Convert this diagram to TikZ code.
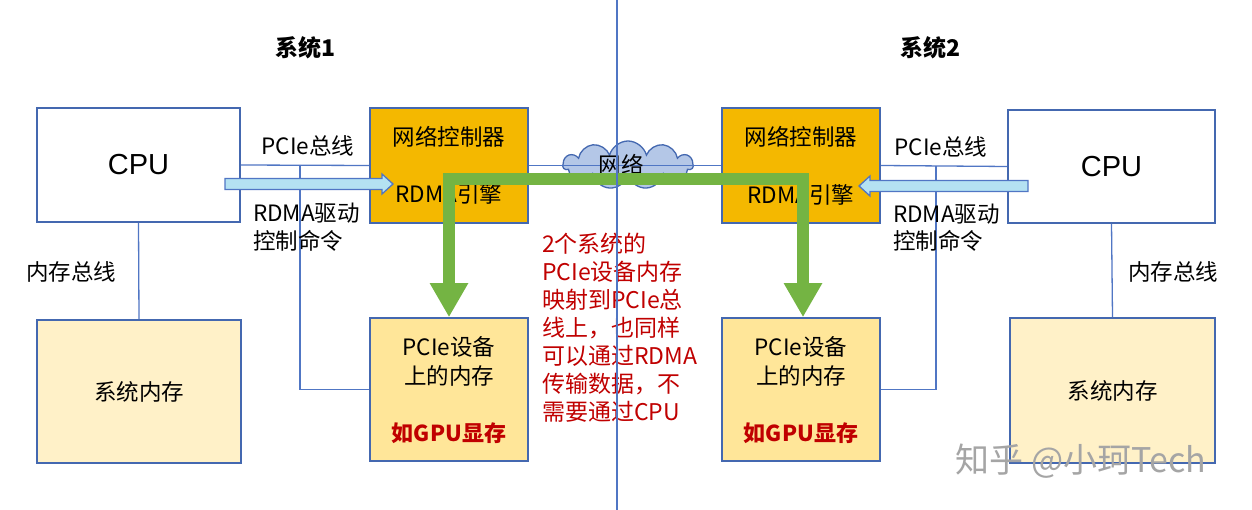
\documentclass[tikz,border=0pt]{standalone}
\usepackage{fontspec}
\setmainfont{Noto Sans CJK SC}
\newfontfamily\cpufont{Liberation Sans}
\usetikzlibrary{shapes.symbols,arrows.meta}
\definecolor{bd}{RGB}{68,104,176}
\definecolor{ln}{RGB}{80,118,196}
\definecolor{ncfill}{RGB}{244,184,0}
\definecolor{devfill}{RGB}{255,230,153}
\definecolor{memfill}{RGB}{255,241,200}
\definecolor{cyanfill}{RGB}{180,226,242}
\definecolor{cloudfill}{RGB}{180,199,231}
\definecolor{grn}{RGB}{116,180,67}
\definecolor{dred}{RGB}{192,0,0}
\definecolor{wm}{RGB}{165,165,165}
\begin{document}
\begin{tikzpicture}[x=1pt,y=-1pt,
  box/.style={draw=bd, line width=1.6pt, inner sep=0pt},
  lbl/.style={font=\fontsize{22.5}{28}\selectfont, text=black, inner sep=0pt},
  ttl/.style={font=\fontsize{23}{27}\selectfont\bfseries, text=black, inner sep=0pt},
  gpu/.style={font=\fontsize{22}{27}\selectfont\bfseries, text=dred, inner sep=0pt},
  cpulbl/.style={font=\cpufont\fontsize{29}{32}\selectfont},
  bus/.style={draw=ln, line width=1.3pt},
  cyanarrow/.style={draw=ln, line width=1.3pt, fill=cyanfill, line join=miter},
  greenarrow/.style={draw=grn, line width=12pt, line join=miter,
     {Triangle[length=34pt,width=36pt]}-{Triangle[length=34pt,width=36pt]}}]
\useasboundingbox (0,0) rectangle (1252,510);
\fill[white] (0,0) rectangle (1252,510);

% titles
\node[ttl] (t1) at (305,48) {系统1};
\node[ttl] (t2) at (930,48) {系统2};

% boxes
\node[box, fill=white, minimum width=203pt, minimum height=114pt, cpulbl] (cpu1) at (138.5,165) {CPU};
\node[box, fill=memfill, minimum width=204pt, minimum height=143pt, lbl] (mem1) at (139,391.5) {系统内存};
\node[box, fill=ncfill, minimum width=158pt, minimum height=115pt] (nc1) at (449,165.5) {};
\node[box, fill=devfill, minimum width=158pt, minimum height=143pt] (pcie1) at (449,389.5) {};

\node[box, fill=ncfill, minimum width=158pt, minimum height=115pt] (nc2) at (801,165.5) {};
\node[box, fill=devfill, minimum width=158pt, minimum height=143pt] (pcie2) at (801,389.5) {};
\node[box, fill=white, minimum width=207pt, minimum height=113pt, cpulbl] (cpu2) at (1111.5,166.5) {CPU};
\node[box, fill=memfill, minimum width=205pt, minimum height=145pt, lbl] (mem2) at (1112.5,390.5) {系统内存};

% cloud
\node[cloud, cloud puffs=11, aspect=2.8, draw=bd, line width=1.3pt, fill=cloudfill,
      minimum width=130pt, minimum height=48pt, inner sep=0pt] (net) at (628,165) {};

% buses
\draw[bus] (cpu1.east) -- (nc1.west);
\draw[bus] (nc1.east) -- (nc2.west);
\draw[bus] (nc2.east) -- (cpu2.west);
\coordinate (b1) at (300,165.5);
\coordinate (b2) at (936,166.5);
\draw[bus] (b1) |- (pcie1.west);
\draw[bus] (b2) |- (pcie2.east);
\draw[bus] (cpu1.south) -- (mem1.north);
\draw[bus] (cpu2.south) -- (mem2.north);

% cyan block arrows
\draw[cyanarrow] (225,178.5) -- (382,178.5) -- (382,174) -- (393,184) -- (382,194) -- (382,189.5) -- (225,189.5) -- cycle;
\draw[cyanarrow] (1028,180.5) -- (870,180.5) -- (870,176) -- (859,186) -- (870,196) -- (870,191.5) -- (1028,191.5) -- cycle;

% labels
\node[lbl] (pb1) at (308,146) {PCIe总线};
\node[lbl, anchor=west] (rd1) at (253,213) {RDMA驱动};
\node[lbl, anchor=west] (cc1) at (253,241) {控制命令};
\node[lbl] (mb1) at (71,272) {内存总线};
\node[lbl] (pb2) at (941,147) {PCIe总线};
\node[lbl, anchor=west] (rd2) at (893,214) {RDMA驱动};
\node[lbl, anchor=west] (cc2) at (893,241) {控制命令};
\node[lbl] (mb2) at (1173,272) {内存总线};

\node[lbl] (nct1) at (449,137) {网络控制器};
\node[lbl] (re1) at (449,194) {RDMA引擎};
\node[lbl] (nct2) at (801,137) {网络控制器};
\node[lbl] (re2) at (801,195) {RDMA引擎};

\node[lbl] (pd1a) at (449,347) {PCIe设备};
\node[lbl] (pd1b) at (449,376) {上的内存};
\node[gpu] (g1) at (449,433) {如GPU显存};
\node[lbl] (pd2a) at (801,347) {PCIe设备};
\node[lbl] (pd2b) at (801,376) {上的内存};
\node[gpu] (g2) at (801,433) {如GPU显存};

\node[lbl] (nettxt) at (621,165) {网络};

\node[lbl, font=\fontsize{23}{28}\selectfont, text=dred, anchor=north west, align=left] (note) at (542,233)
  {2个系统的\\PCIe设备内存\\映射到PCIe总\\线上，也同样\\可以通过RDMA\\传输数据，不\\需要通过CPU};

% green path
\coordinate (gl) at (449,179);
\coordinate (gr) at (803,179);
\draw[greenarrow] (pcie1.north) -- (gl) -- (gr) -- (gr |- pcie2.north);

% centre line
\coordinate (ctop) at (617,0);
\coordinate (cbot) at (617,510);
\draw[bus] (ctop) -- (cbot);

% watermark
\node[font=\fontsize{34}{38}\selectfont, text=wm, inner sep=0pt] (wmk) at (1081,461) {知乎 @小珂Tech};
\end{tikzpicture}
\end{document}
